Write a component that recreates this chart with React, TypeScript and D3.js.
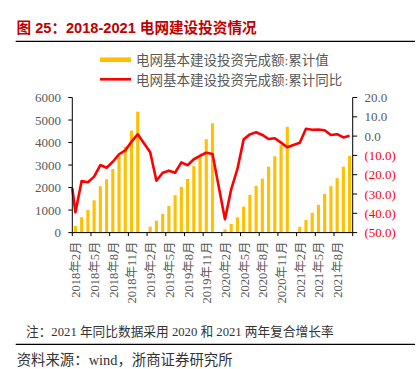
import React from 'react';
import * as d3 from 'd3';

// ---- data ----
const months: string[] = [
  '2018年2月', '2018年3月', '2018年4月', '2018年5月', '2018年6月', '2018年7月', '2018年8月', '2018年9月', '2018年10月', '2018年11月', '2018年12月',
  '2019年1月', '2019年2月', '2019年3月', '2019年4月', '2019年5月', '2019年6月', '2019年7月', '2019年8月', '2019年9月', '2019年10月', '2019年11月', '2019年12月',
  '2020年1月', '2020年2月', '2020年3月', '2020年4月', '2020年5月', '2020年6月', '2020年7月', '2020年8月', '2020年9月', '2020年10月', '2020年11月', '2020年12月',
  '2021年1月', '2021年2月', '2021年3月', '2021年4月', '2021年5月', '2021年6月', '2021年7月', '2021年8月', '2021年9月', '2021年10月',
];

// 电网基本建设投资完成额:累计值 (亿元)
const cumValue: (number | null)[] = [
  293, 680, 1004, 1435, 2057, 2368, 2827, 3404, 3819, 4530, 5373,
  null, 262, 530, 827, 1182, 1658, 2027, 2382, 2960, 3329, 4147, 4856,
  null, 147, 382, 680, 1151, 1671, 2071, 2396, 2929, 3390, 3905, 4699,
  null, 255, 560, 884, 1227, 1720, 2060, 2420, 2929, 3410,
];

// 电网基本建设投资完成额:累计同比 (%)
const cumYoY: (number | null)[] = [
  -39.5, -23.3, -23.9, -21.0, -15.0, -16.4, -13.3, -9.4, -7.4, -2.9, 0.9,
  null, -8.4, -23.1, -19.0, -17.9, -19.0, -13.6, -15.1, -12.0, -10.2, -8.6, -9.3,
  null, -43.1, -27.6, -17.0, -1.7, 0.9, 2.0, 0.6, -1.5, -1.1, -3.4, -5.8,
  null, -3.4, 3.8, 3.3, 3.4, 3.0, 0.6, 1.0, -0.7, 0.2,
];
const yoyLeadIn = -27.0;

const leftTicks: number[] = [0, 1000, 2000, 3000, 4000, 5000, 6000];
const rightTicks: number[] = [20, 10, 0, -10, -20, -30, -40, -50];

const legendBar = '电网基本建设投资完成额:累计值';
const legendLine = '电网基本建设投资完成额:累计同比';
const title = '图 25：2018-2021 电网建设投资情况';
const note = '注：2021 年同比数据采用 2020 和 2021 两年复合增长率';
const source = '资料来源：wind，浙商证券研究所';

// ---- layout ----
const W = 418;
const H = 369;
const plotL = 72.3;
const plotR = 352.7;
const plotT = 97.5;
const plotB = 232.6;

const BAR = '#FFC000';
const RED = '#FF0000';
const GRAY = '#595959';
const serif = '"Liberation Serif", "Noto Sans CJK SC", serif';
const sans = '"Liberation Sans", "Noto Sans CJK SC", sans-serif';

const fmtR = (v: number) => (v < 0 ? `(${Math.abs(v).toFixed(1)})` : v.toFixed(1));

export default function App() {
  const x = d3.scaleBand<string>().domain(months).range([plotL, plotR]).paddingInner(0.5).paddingOuter(0.25);
  const step = x.step();
  const cx = (m: string) => (x(m) as number) + x.bandwidth() / 2;
  const yL = d3.scaleLinear().domain([0, 6000]).range([plotB, plotT]);
  const yR = d3.scaleLinear().domain([-50, 20]).range([plotB, plotT]);

  const pts: [number, number][] = [[plotL, yR(yoyLeadIn)]];
  months.forEach((m, i) => {
    const v = cumYoY[i];
    if (v !== null) pts.push([cx(m), yR(v)]);
  });
  const linePath = d3.line<[number, number]>().x((d) => d[0]).y((d) => d[1])(pts) || '';

  const xTickPos: number[] = [];
  months.forEach((m, i) => {
    if (i % 3 === 0) xTickPos.push((x(m) as number) - (x.paddingInner() * step) / 2);
  });
  xTickPos.push(plotR);

  return (
    <svg width={W} height={H} style={{ position: 'absolute', left: 0, top: 0, background: '#fff' }}>
      <rect x={0} y={0} width={W} height={H} fill="#fff" />
      {/* title */}
      <text x={16.5} y={32.6} fontFamily={sans} fontWeight="bold" fontSize={14.6} fill="#C00000">
        {title}
      </text>
      <line x1={15.7} x2={415} y1={41.3} y2={41.3} stroke="#000" strokeWidth={1.2} />

      {/* legend */}
      <rect x={100} y={57.4} width={31} height={4.6} fill={BAR} />
      <text x={136} y={60} dominantBaseline="central" fontFamily={serif} fontSize={13.5} fill={GRAY}>
        {legendBar}
      </text>
      <line x1={100} x2={131} y1={79.3} y2={79.3} stroke={RED} strokeWidth={2.6} />
      <text x={136} y={80} dominantBaseline="central" fontFamily={serif} fontSize={13.5} fill={GRAY}>
        {legendLine}
      </text>

      {/* bars */}
      {months.map((m, i) => {
        const v = cumValue[i];
        if (v === null) return null;
        return <rect key={m} x={x(m)} y={yL(v)} width={x.bandwidth()} height={plotB - yL(v)} fill={BAR} />;
      })}

      {/* line */}
      <path d={linePath} fill="none" stroke={RED} strokeWidth={2.6} strokeLinejoin="round" />

      {/* axes */}
      <line x1={plotL} x2={plotL} y1={plotT} y2={plotB} stroke="#000" strokeWidth={1} />
      <line x1={plotR} x2={plotR} y1={plotT} y2={plotB} stroke="#000" strokeWidth={1} />
      <line x1={plotL} x2={plotR} y1={plotB} y2={plotB} stroke="#000" strokeWidth={1} />

      {leftTicks.map((t) => (
        <g key={`l${t}`}>
          <line x1={plotL - 4} x2={plotL} y1={yL(t)} y2={yL(t)} stroke="#000" strokeWidth={1} />
          <text x={61} y={yL(t)} textAnchor="end" dominantBaseline="central" fontFamily={serif} fontSize={13} fill={GRAY}>
            {t}
          </text>
        </g>
      ))}
      {rightTicks.map((t) => (
        <g key={`r${t}`}>
          <line x1={plotR} x2={plotR + 4.5} y1={yR(t)} y2={yR(t)} stroke="#000" strokeWidth={1} />
          <text x={364.5} y={yR(t)} dominantBaseline="central" fontFamily={serif} fontSize={13} fill={t < 0 ? RED : GRAY}>
            {fmtR(t)}
          </text>
        </g>
      ))}
      {xTickPos.map((p, i) => (
        <line key={`xt${i}`} x1={p} x2={p} y1={plotB} y2={plotB + 3.5} stroke="#000" strokeWidth={1} />
      ))}
      {months.map((m, i) =>
        i % 3 === 0 ? (
          <text
            key={`xl${m}`}
            transform={`translate(${cx(m) + 1},${241.5}) rotate(-90)`}
            textAnchor="end"
            dominantBaseline="central"
            fontFamily={serif}
            fontSize={12.5}
            fill={GRAY}
          >
            {m}
          </text>
        ) : null
      )}

      {/* footnotes */}
      <text x={26} y={332.3} dominantBaseline="central" fontFamily={serif} fontSize={12.7} fill="#333">
        {note}
      </text>
      <line x1={15.7} x2={415} y1={344.3} y2={344.3} stroke="#000" strokeWidth={1.2} />
      <text x={16.7} y={360} dominantBaseline="central" fontFamily={serif} fontSize={14.4} fill="#333">
        {source}
      </text>
    </svg>
  );
}
